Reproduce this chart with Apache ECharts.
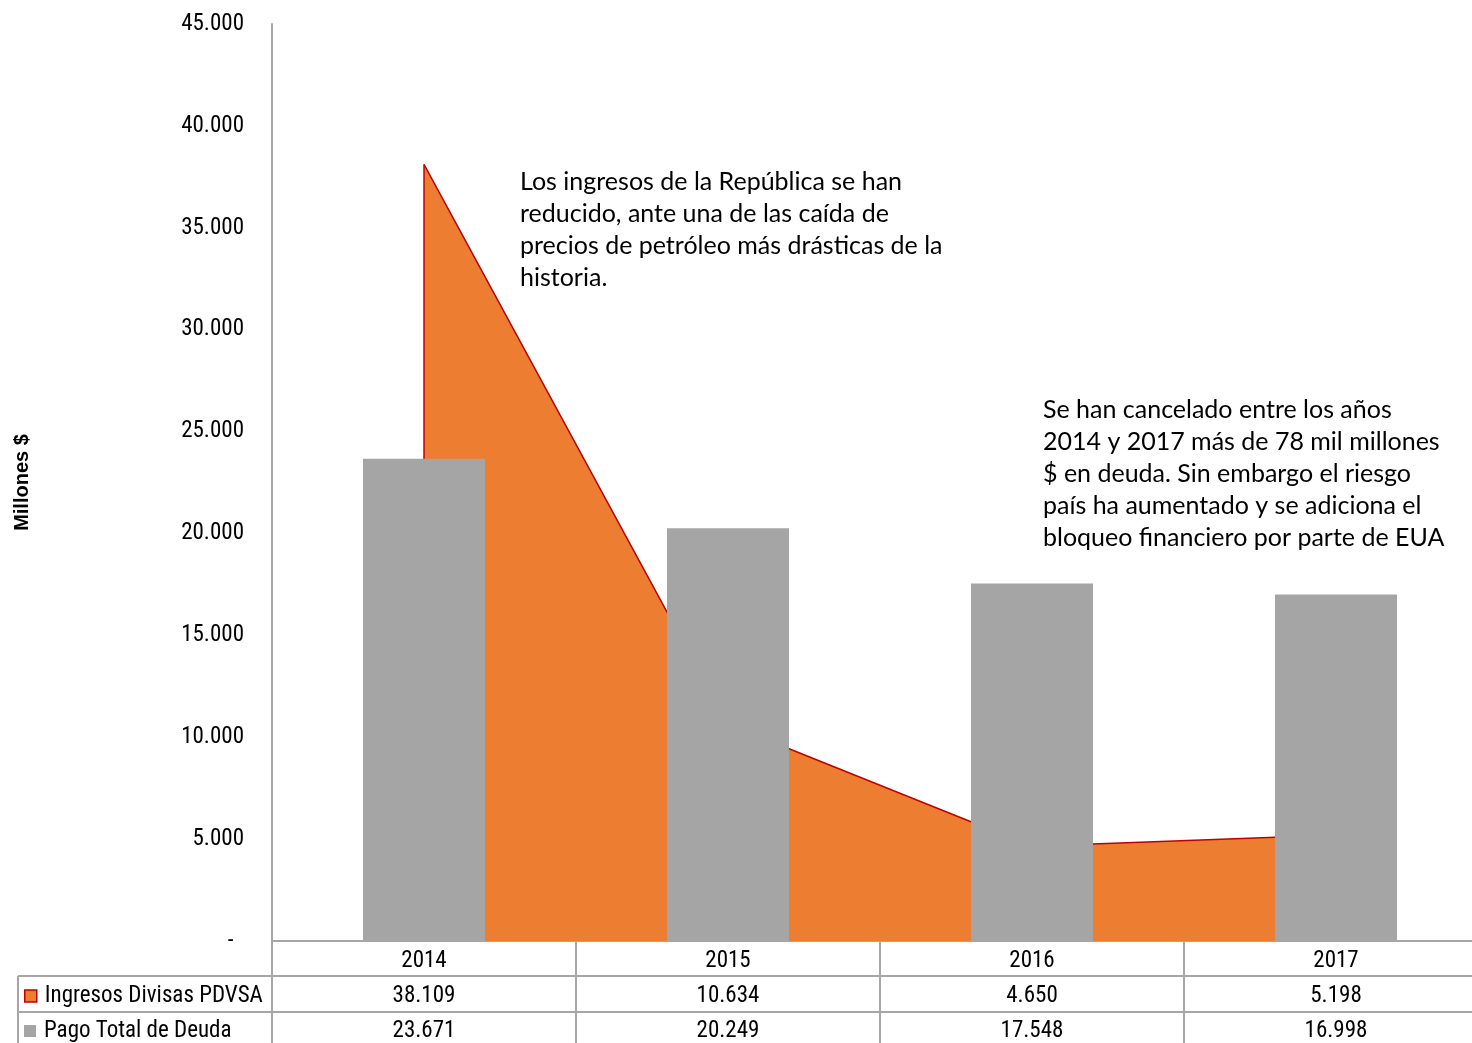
<!DOCTYPE html>
<html>
<head>
<meta charset="utf-8">
<script src="https://cdn.jsdelivr.net/npm/echarts@6/dist/echarts.min.js"></script>
<style>
  html, body { margin: 0; padding: 0; background: #fff; }
  #chart-container { width: 1472px; height: 1043px; }
</style>
</head>
<body>
<div id="chart-container"></div>
<script>
// data
const years = ['2014', '2015', '2016', '2017'];
const ingresos = [38109, 10634, 4650, 5198];
const pagoDeuda = [23671, 20249, 17548, 16998];
const yTicks = { min: 0, max: 45000, step: 5000 };

// Roboto with the condensed width stands in for Arial Narrow
const narrow = 'Roboto, sans-serif';
const narrowStretch = 'condensed';
const gridCol = '#A6A6A6';

// 38109 -> "38.109"
function fmt(n) {
  return String(n).replace(/\B(?=(\d{3})+(?!\d))/g, '.');
}

const chart = echarts.init(document.getElementById('chart-container'), null, { renderer: 'canvas' });

const legendText = { fontFamily: narrow, fontStyle: narrowStretch, fontSize: 23, lineHeight: 24, color: '#000', padding: [0, 0, 0, 3] };

let option = {
  animation: false,
  grid: { left: 272, top: 24, width: 1216, height: 917, outerBoundsMode: 'none', containLabel: false },
  legend: [
    {
      left: 24, top: 984, itemWidth: 12, itemHeight: 12, itemGap: 0, padding: 0,
      textStyle: legendText,
      data: [{ name: 'Ingresos Divisas PDVSA', icon: 'rect',
               itemStyle: { color: '#ED7D31', borderColor: '#C00000', borderWidth: 1.5 } }]
    },
    {
      left: 24, top: 1019, itemWidth: 12, itemHeight: 12, itemGap: 0, padding: 0,
      textStyle: legendText,
      data: [{ name: 'Pago Total de Deuda', icon: 'rect' }]
    }
  ],
  xAxis: {
    type: 'category',
    data: years,
    boundaryGap: true,
    axisLine: { lineStyle: { color: gridCol, width: 2 } },
    axisTick: { show: true, length: 102, interval: 0, lineStyle: { color: gridCol, width: 2 } },
    axisLabel: {
      margin: 3,
      interval: 0,
      formatter: function (v, i) {
        return '{a|' + v + '}\n{a|' + fmt(ingresos[i]) + '}\n{a|' + fmt(pagoDeuda[i]) + '}';
      },
      rich: { a: { fontFamily: narrow, fontStyle: narrowStretch, fontSize: 23, color: '#000', lineHeight: 35, height: 35 } }
    }
  },
  yAxis: {
    type: 'value',
    min: yTicks.min,
    max: yTicks.max,
    interval: yTicks.step,
    name: 'Millones $',
    nameLocation: 'middle',
    nameGap: 240,
    nameRotate: 90,
    nameTextStyle: { fontFamily: "'Liberation Sans', Arial, sans-serif", fontWeight: 'bold', fontSize: 20, color: '#000' },
    axisLine: { show: true, lineStyle: { color: gridCol, width: 2 } },
    axisTick: { show: false },
    splitLine: { show: false },
    axisLabel: {
      margin: 28,
      fontFamily: narrow, fontStyle: narrowStretch, fontSize: 23, color: '#000',
      formatter: function (v) { return v === 0 ? '-  ' : fmt(v); }
    }
  },
  series: [
    {
      name: 'Ingresos Divisas PDVSA',
      type: 'line',
      data: ingresos,
      symbol: 'none',
      lineStyle: { color: '#C00000', width: 1.5 },
      itemStyle: { color: '#ED7D31' },
      areaStyle: { color: '#ED7D31', opacity: 1 },
      z: 2,
      markLine: {
        silent: true,
        symbol: 'none',
        label: { show: false },
        lineStyle: { color: '#C00000', width: 1.5, type: 'solid' },
        data: [[{ coord: [years[0], 0] }, { coord: [years[0], ingresos[0]] }]]
      }
    },
    {
      name: 'Pago Total de Deuda',
      type: 'bar',
      data: pagoDeuda,
      barWidth: 122,
      itemStyle: { color: '#A5A5A5' },
      z: 5
    }
  ],
  graphic: [
    // table lines left of / across the plot
    { type: 'line', shape: { x1: 18, y1: 976, x2: 1472, y2: 976 }, style: { stroke: gridCol, lineWidth: 2 } },
    { type: 'line', shape: { x1: 18, y1: 1012, x2: 1472, y2: 1012 }, style: { stroke: gridCol, lineWidth: 2 } },
    { type: 'line', shape: { x1: 18, y1: 976, x2: 18, y2: 1043 }, style: { stroke: gridCol, lineWidth: 2 } },
    // annotations
    {
      type: 'text', left: 520, top: 166,
      style: {
        text: 'Los ingresos de la República se han\nreducido, ante una de las caída de\nprecios de petróleo más drásticas de la\nhistoria.',
        font: '25px Lato, "Open Sans", sans-serif', fill: '#000', lineHeight: 32
      }
    },
    {
      type: 'text', left: 1043, top: 394,
      style: {
        text: 'Se han cancelado entre los años\n2014 y 2017 más de 78 mil millones\n$ en deuda. Sin embargo el riesgo\npaís ha aumentado y se adiciona el\nbloqueo financiero por parte de EUA',
        font: '25px Lato, "Open Sans", sans-serif', fill: '#000', lineHeight: 32
      }
    }
  ]
};

chart.setOption(option);
window.addEventListener('resize', chart.resize);
</script>
</body>
</html>
